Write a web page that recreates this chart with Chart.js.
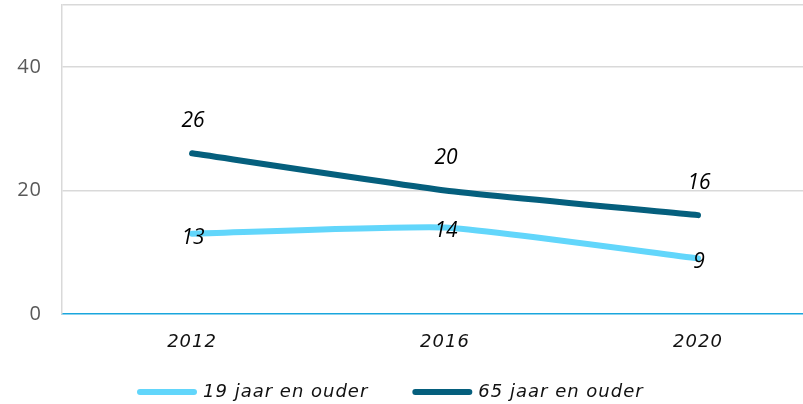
<!DOCTYPE html>
<html>
<head>
<meta charset="utf-8">
<script src="https://cdn.jsdelivr.net/npm/chart.js@4/dist/chart.umd.min.js"></script>
<style>
  html, body { margin: 0; padding: 0; background: #fff; overflow: hidden; }
  #wrap { width: 803px; height: 404px; }
</style>
</head>
<body>
<div id="wrap"><canvas id="chart" width="803" height="404"></canvas></div>
<script>
const categories = ['2012', '2016', '2020'];
const seriesNames = ['19 jaar en ouder', '65 jaar en ouder'];
const values19 = [13, 14, 9];
const values65 = [26, 20, 16];
const yTicks = [0, 20, 40];
const yMax = 50;

const lightBlue = '#62d6fb';
const darkBlue = '#055f7d';
const legendGap = 47;

// spacing between letters, like the original axis and legend text
const spacingPlugin = {
    id: 'spacing',
    beforeUpdate(chart) { chart.ctx.letterSpacing = '1px'; },
    beforeDraw(chart) { chart.ctx.letterSpacing = '1px'; },
    afterLayout(chart) {
        // put the legend row where the original has it
        const lg = chart.legend;
        const h = lg.bottom - lg.top;
        lg.top = 336;
        lg.bottom = 336 + h;
        lg.left = 0;
        lg.right = 2 * 140 + lg.lineWidths[0] - legendGap;
    }
};

// value labels: above the dark line, on top of the light line
const valueLabels = {
    id: 'valueLabels',
    afterDatasetsDraw(chart) {
        const ctx = chart.ctx;
        ctx.save();
        ctx.letterSpacing = '0px';
        ctx.font = 'italic 21px "Open Sans"';
        ctx.fillStyle = '#000';
        ctx.textAlign = 'center';
        ctx.textBaseline = 'middle';
        chart.data.datasets.forEach((ds, di) => {
            const meta = chart.getDatasetMeta(di);
            meta.data.forEach((pt, i) => {
                const dy = di === 1 ? -32 : 4;
                ctx.fillText(String(ds.data[i].y), pt.x + 1, pt.y + dy);
            });
        });
        ctx.restore();
    }
};

const ctx = document.getElementById('chart').getContext('2d');
new Chart(ctx, {
    type: 'line',
    data: {
        datasets: [
            { label: seriesNames[0], data: values19.map((v, i) => ({ x: i, y: v })),
              borderColor: lightBlue, backgroundColor: lightBlue },
            { label: seriesNames[1], data: values65.map((v, i) => ({ x: i, y: v })),
              borderColor: darkBlue, backgroundColor: darkBlue }
        ]
    },
    options: {
        responsive: false,
        animation: false,
        elements: {
            line: { borderWidth: 6, borderCapStyle: 'round', borderJoinStyle: 'round', tension: 0.15 },
            point: { radius: 0, hoverRadius: 0 }
        },
        layout: { padding: { top: 5, left: 0, right: 0, bottom: -43 } },
        scales: {
            x: {
                type: 'linear',
                min: -0.514,
                max: 2.415,
                afterBuildTicks: (scale) => { scale.ticks = categories.map((c, i) => ({ value: i })); },
                afterFit: (scale) => { scale.height = 58; },
                grid: { display: false },
                border: { display: true, color: '#1aa6dd', width: 1.5 },
                ticks: {
                    callback: (v) => categories[v],
                    font: { family: 'DejaVu Sans', size: 18, style: 'italic' },
                    color: '#111',
                    padding: 10,
                    maxRotation: 0
                }
            },
            y: {
                min: 0,
                max: yMax,
                afterBuildTicks: (scale) => { scale.ticks = yTicks.concat([yMax]).map(v => ({ value: v })); },
                afterFit: (scale) => {
                    scale.width = 62;
                    scale.paddingTop = 0;
                    scale.paddingBottom = 0;
                },
                grid: {
                    color: (c) => (c.tick && c.tick.value === 0) ? 'rgba(0,0,0,0)' : '#d9d9d9',
                    lineWidth: 1.5,
                    drawTicks: false
                },
                border: { display: true, color: '#d9d9d9', width: 1.5 },
                ticks: {
                    callback: (v) => yTicks.includes(v) ? v : '',
                    font: { family: 'Open Sans', size: 20 },
                    color: '#595959',
                    padding: 20
                }
            }
        },
        plugins: {
            legend: {
                position: 'bottom',
                labels: {
                    usePointStyle: true,
                    pointStyleWidth: 54,
                    font: { family: 'DejaVu Sans', size: 18, style: 'italic' },
                    color: '#111',
                    padding: legendGap,
                    generateLabels: (chart) => chart.data.datasets.map((ds, i) => ({
                        text: ds.label,
                        datasetIndex: i,
                        fillStyle: ds.borderColor,
                        strokeStyle: ds.borderColor,
                        fontColor: '#111',
                        lineWidth: 6,
                        lineCap: 'round',
                        pointStyle: 'line',
                        hidden: false
                    }))
                }
            },
            tooltip: { enabled: false },
            title: { display: false }
        }
    },
    plugins: [spacingPlugin, valueLabels]
});
</script>
</body>
</html>
